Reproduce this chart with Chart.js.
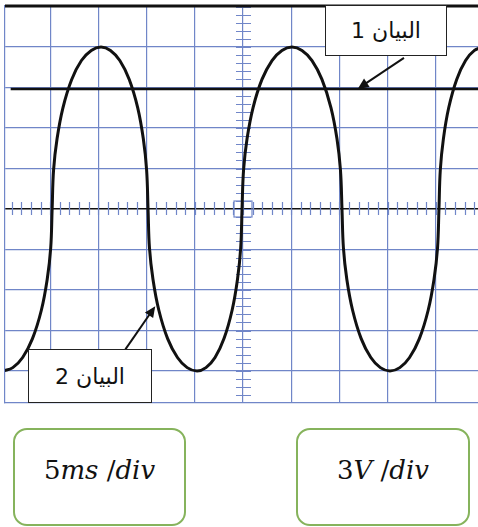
<!DOCTYPE html>
<html lang="ar">
<head>
    <meta charset="UTF-8" />
    <title>Oscilloscope</title>
    <script src="https://cdn.jsdelivr.net/npm/chart.js"></script>
    <style>
        body { margin: 0; background: #fff; }
        .wrap { position: relative; width: 478px; height: 527px; overflow: hidden; }
        canvas { position: absolute; left: 0; top: 0; }
        .tag {
            position: absolute; box-sizing: border-box; background: #fff;
            border: 1.5px solid #222; display: flex; align-items: center; justify-content: center;
            font-family: "DejaVu Sans", sans-serif; font-size: 22px; color: #111;
        }
        .unit {
            position: absolute; box-sizing: border-box; top: 428px; height: 98px;
            border: 2px solid #86b35c; border-radius: 14px; background: #fff;
            display: flex; align-items: center; justify-content: center; padding-bottom: 14px;
            font-family: "DejaVu Serif", serif; font-size: 26px; color: #111;
        }
        .unit i { font-style: italic; }
    </style>
</head>
<body>

<div class="wrap">
    <canvas id="scope" width="478" height="527"></canvas>
    <div class="tag" dir="rtl" style="left:325px; top:5px; width:122px; height:51px;">البيان 1</div>
    <div class="tag" dir="rtl" style="left:28px; top:349px; width:124px; height:54px;">البيان 2</div>
    <div class="unit" style="left:13px; width:173px;"><span>5<i>ms</i> /<i>div</i></span></div>
    <div class="unit" style="left:296px; width:174px;"><span>3<i>V</i> /<i>div</i></span></div>
</div>

<script>
    // time in ms (5 ms/div), voltage in V (3 V/div)
    const xGridTicks = [-20, -15, -10, -5, 0, 5, 10, 15, 20];
    const yGridTicks = [-12, -9, -6, -3, 0, 3, 6, 9, 12];

    // البيان 2 : values
    const curveT = [
        -24.9, -23.88, -22.86, -21.84, -20.92, -20.31, -19.95, -19.8,
        -19.65, -19.29, -18.68, -17.77, -16.76, -15.74, -14.73,
        -13.75, -12.78, -11.8, -10.92, -10.34, -10.0, -9.85,
        -9.7, -9.34, -8.73, -7.82, -6.8, -5.79, -4.77,
        -3.84, -2.9, -1.97, -1.13, -0.57, -0.24, -0.1,
        0.06, 0.42, 1.04, 1.97, 3.01, 4.04, 5.08,
        6.12, 7.16, 8.19, 9.13, 9.75, 10.11, 10.27,
        10.42, 10.77, 11.37, 12.26, 13.26, 14.25, 15.25,
        16.27, 17.28, 18.3, 19.21, 19.82, 20.18, 20.33,
        20.47, 20.79, 21.34, 22.17, 23.09, 24.01, 24.93];
    const curveV = [
        -12, -11.75, -11.0, -9.6, -7.5, -5.2, -2.9, 0,
        2.9, 5.2, 7.5, 9.6, 11.0, 11.75, 12,
        11.75, 11.0, 9.6, 7.5, 5.2, 2.9, 0,
        -2.9, -5.2, -7.5, -9.6, -11.0, -11.75, -12,
        -11.75, -11.0, -9.6, -7.5, -5.2, -2.9, 0,
        2.9, 5.2, 7.5, 9.6, 11.0, 11.75, 12,
        11.75, 11.0, 9.6, 7.5, 5.2, 2.9, 0,
        -2.9, -5.2, -7.5, -9.6, -11.0, -11.75, -12,
        -11.75, -11.0, -9.6, -7.5, -5.2, -2.9, 0,
        2.9, 5.2, 7.5, 9.6, 11.0, 11.75, 12];

    // البيان 1 : constant level
    const line1T = [-24.1, 25];
    const line1V = [8.9, 8.9];

    // arrows [from, to] in (ms, V)
    const arrow1 = [[16.7, 11.2], [11.9, 8.9]];
    const arrow2 = [[-12.2, -10.4], [-9.1, -7.2]];

    const gridBlue = '#7086c8';

    function toPoints(xs, ys) {
        return xs.map((x, i) => ({ x: x, y: ys[i] }));
    }

    const scopePlugin = {
        id: 'scope',
        beforeDatasetsDraw(chart) {
            const ctx = chart.ctx, xs = chart.scales.x, ys = chart.scales.y, a = chart.chartArea;
            const x0 = xs.getPixelForValue(0), y0 = ys.getPixelForValue(0);
            ctx.save();
            ctx.strokeStyle = gridBlue;
            ctx.lineWidth = 1.2;
            ctx.beginPath();
            // minor ticks, 5 per division
            for (let t = Math.ceil(xs.min); t <= xs.max; t += 1) {
                const px = Math.round(xs.getPixelForValue(t)) + 0.5;
                ctx.moveTo(px, y0 - 7); ctx.lineTo(px, y0 + 6);
            }
            for (let v = -24; v <= 25; v += 1) {
                const py = Math.round(ys.getPixelForValue(v * 0.6)) + 0.5;
                if (py < a.top || py > a.bottom) continue;
                ctx.moveTo(x0 - 7, py); ctx.lineTo(x0 + 8, py);
            }
            ctx.stroke();
            ctx.strokeRect(x0 - 9, y0 - 8, 18, 16);
            // top frame
            ctx.strokeStyle = '#111';
            ctx.lineWidth = 3;
            ctx.beginPath();
            ctx.moveTo(a.left, a.top);
            ctx.lineTo(a.right, a.top);
            ctx.stroke();
            ctx.restore();
        },
        afterDatasetsDraw(chart) {
            const ctx = chart.ctx, xs = chart.scales.x, ys = chart.scales.y;
            ctx.save();
            ctx.strokeStyle = '#111';
            ctx.fillStyle = '#111';
            ctx.lineWidth = 2;
            [arrow1, arrow2].forEach(ar => {
                const fx = xs.getPixelForValue(ar[0][0]), fy = ys.getPixelForValue(ar[0][1]);
                const tx = xs.getPixelForValue(ar[1][0]), ty = ys.getPixelForValue(ar[1][1]);
                const ang = Math.atan2(ty - fy, tx - fx);
                ctx.beginPath();
                ctx.moveTo(fx, fy);
                ctx.lineTo(tx - 8 * Math.cos(ang), ty - 8 * Math.sin(ang));
                ctx.stroke();
                ctx.beginPath();
                ctx.moveTo(tx, ty);
                ctx.lineTo(tx - 11 * Math.cos(ang) + 5 * Math.sin(ang), ty - 11 * Math.sin(ang) - 5 * Math.cos(ang));
                ctx.lineTo(tx - 11 * Math.cos(ang) - 5 * Math.sin(ang), ty - 11 * Math.sin(ang) + 5 * Math.cos(ang));
                ctx.closePath();
                ctx.fill();
            });
            ctx.restore();
        }
    };

    new Chart(document.getElementById('scope').getContext('2d'), {
        type: 'line',
        data: {
            datasets: [{
                label: 'البيان 1',
                data: toPoints(line1T, line1V),
                borderColor: '#111',
                borderWidth: 2.5,
                pointRadius: 0,
            }, {
                label: 'البيان 2',
                data: toPoints(curveT, curveV),
                borderColor: '#111',
                borderWidth: 3,
                pointRadius: 0,
                tension: 0.4,
            }]
        },
        options: {
            responsive: false,
            animation: false,
            layout: { padding: { left: 5, top: 6, right: 0, bottom: 124 } },
            plugins: { legend: { display: false }, tooltip: { enabled: false } },
            scales: {
                x: {
                    type: 'linear',
                    min: -24.69,
                    max: 24.38,
                    afterBuildTicks: s => { s.ticks = xGridTicks.map(v => ({ value: v })); },
                    ticks: { display: false },
                    grid: { color: gridBlue, lineWidth: 1.2, drawTicks: false },
                    border: { color: gridBlue, width: 1.2 }
                },
                y: {
                    type: 'linear',
                    min: -14.37,
                    max: 15.04,
                    afterBuildTicks: s => { s.ticks = yGridTicks.map(v => ({ value: v })); },
                    ticks: { display: false },
                    grid: {
                        color: c => c.tick && c.tick.value === 0 ? '#111' : gridBlue,
                        lineWidth: c => c.tick && c.tick.value === 0 ? 1.5 : 1.2,
                        drawTicks: false
                    },
                    border: { color: gridBlue, width: 1.2 }
                }
            }
        },
        plugins: [scopePlugin]
    });
</script>

</body>
</html>
